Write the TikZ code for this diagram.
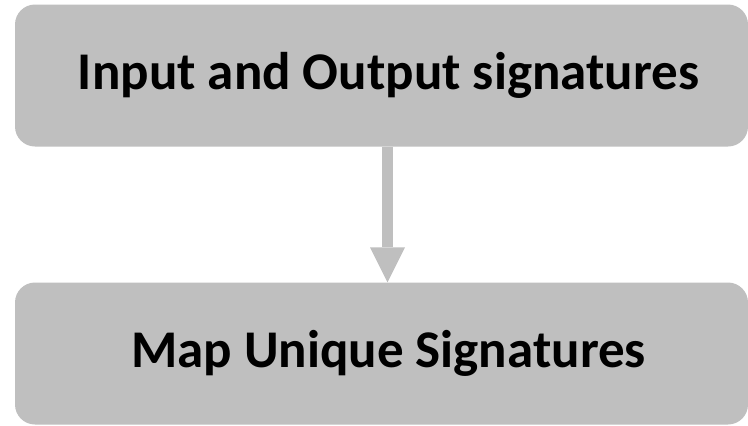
\documentclass[tikz,border=0pt]{standalone}
\usepackage{fontspec}
\setmainfont{Carlito}
\usepackage{tikz}
\usetikzlibrary{arrows.meta,positioning}
\definecolor{boxgray}{HTML}{BFBFBF}

\begin{document}
\begin{tikzpicture}[x=1pt, y=1pt,
    box/.style={rectangle, fill=boxgray, rounded corners=20pt,
                minimum width=733pt, minimum height=142pt, font=\fontsize{53}{60}\selectfont\bfseries, align=center},
    arr/.style={-{Triangle[length=35pt, width=35pt, line width=0pt]}, line width=11pt, boxgray}
]
\useasboundingbox (0,0) rectangle (748,-426);
\node[box] (sig) at (381.5,-75.5) {\hspace*{14pt}Input and Output signatures};
\node[box] (map) at (381.5,-353.5) {\hspace*{14pt}Map Unique Signatures};

\draw[arr] ([xshift=6pt]sig.south) -- ([xshift=6pt]map.north);
\end{tikzpicture}
\end{document}
